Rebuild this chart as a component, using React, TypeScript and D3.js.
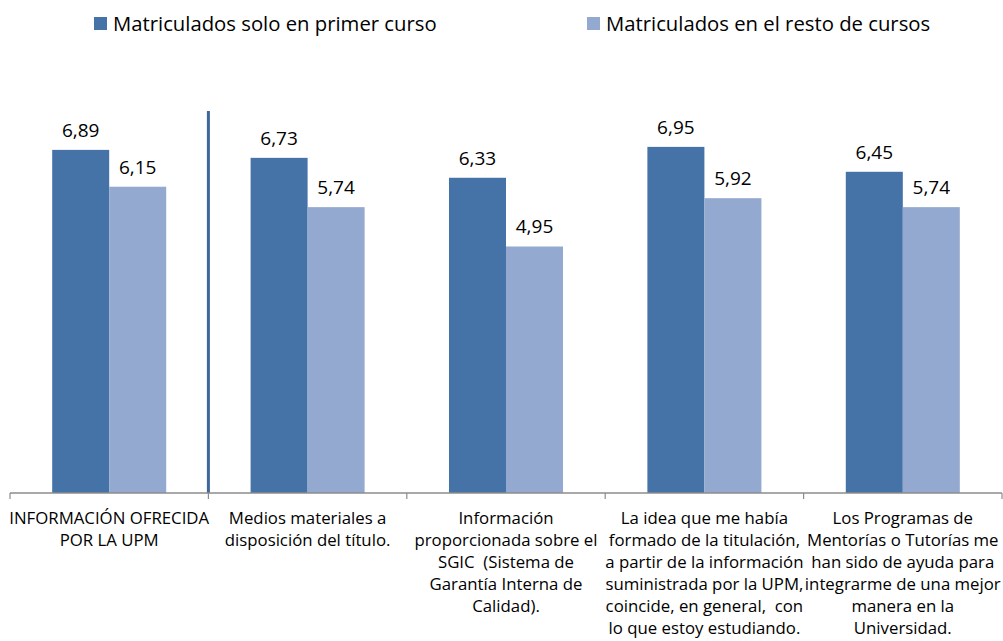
import React from "react";
import * as d3 from "d3";

const categories = [
  "INFORMACIÓN OFRECIDA POR LA UPM",
  "Medios materiales a disposición del título.",
  "Información proporcionada sobre el SGIC  (Sistema de Garantía Interna de Calidad).",
  "La idea que me había formado de la titulación, a partir de la información suministrada por la UPM, coincide, en general,  con lo que estoy estudiando.",
  "Los Programas de Mentorías o Tutorías me han sido de ayuda para integrarme de una mejor manera en la Universidad.",
];
const categoryLines = [
  ["INFORMACIÓN OFRECIDA", "POR LA UPM"],
  ["Medios materiales a", "disposición del título."],
  ["Información", "proporcionada sobre el", "SGIC  (Sistema de", "Garantía Interna de", "Calidad)."],
  ["La idea que me había", "formado de la titulación,", "a partir de la información", "suministrada por la UPM,", "coincide, en general,  con", "lo que estoy estudiando."],
  ["Los Programas de", "Mentorías o Tutorías me", "han sido de ayuda para", "integrarme de una mejor", "manera en la", "Universidad."],
];
const seriesNames = ["Matriculados solo en primer curso", "Matriculados en el resto de cursos"];
const primerCurso = [6.89, 6.73, 6.33, 6.95, 6.45];
const restoCursos = [6.15, 5.74, 4.95, 5.92, 5.74];
const seriesValues = [primerCurso, restoCursos];
const colors = ["#4572A7", "#93A9D0"];

const W = 1003;
const H = 641;
const FONT = "'Open Sans', Lato, sans-serif";

export default function App() {
  const x = d3.scaleBand<string>().domain(categories).range([10, 1002]).paddingInner(0).paddingOuter(0);
  const xs = d3.scaleBand<string>().domain(seriesNames).range([0, x.bandwidth()]).paddingInner(0).paddingOuter(0.74);
  const y = d3.scaleLinear().domain([0, 7]).range([493, 493 - 7 * 49.8]);
  const fmt = (v: number) => v.toFixed(2).replace(".", ",");
  const sepX = x(categories[1])!;

  return (
    <div style={{ position: "absolute", left: 0, top: 0 }}>
      <svg width={W} height={H} style={{ display: "block", fontFamily: FONT }}>
        <rect width={W} height={H} fill="#fff" />
        {/* legend */}
        {seriesNames.map((s, i) => {
          const lx = i === 0 ? 94 : 587;
          return (
            <g key={s}>
              <rect x={lx} y={17} width={13} height={13} fill={colors[i]} />
              <text x={lx + 19} y={31} fontSize={20.3} fill="#000">{s}</text>
            </g>
          );
        })}
        {/* bars */}
        {categories.map((c, ci) => (
          <g key={c} transform={`translate(${x(c)},0)`}>
            {seriesNames.map((s, si) => {
              const v = seriesValues[si][ci];
              const bx = xs(s)!;
              return (
                <g key={s}>
                  <rect x={bx} y={y(v)} width={xs.bandwidth()} height={y(0) - y(v)} fill={colors[si]} />
                  <text x={bx + xs.bandwidth() / 2} y={y(v) - 13} textAnchor="middle" fontSize={19} fill="#000">{fmt(v)}</text>
                </g>
              );
            })}
          </g>
        ))}
        {/* separator */}
        <line x1={sepX} x2={sepX} y1={111} y2={y(0)} stroke="#3F6799" strokeWidth={3} />
        {/* axis */}
        <line x1={10} x2={1002} y1={y(0)} y2={y(0)} stroke="#8C8C8C" strokeWidth={1.5} />
        {[...categories.map((c) => x(c)!), 1002].map((t, i) => (
          <line key={i} x1={t} x2={t} y1={y(0)} y2={y(0) + 6} stroke="#8C8C8C" strokeWidth={1.2} />
        ))}
        {/* category labels */}
        {categories.map((c, ci) => (
          <text key={c} textAnchor="middle" fontSize={16.8} fill="#000">
            {categoryLines[ci].map((ln, li) => (
              <tspan key={li} x={x(c)! + x.bandwidth() / 2} y={524 + li * 21.9} style={{ whiteSpace: "pre" }}>{ln}</tspan>
            ))}
          </text>
        ))}
      </svg>
    </div>
  );
}
